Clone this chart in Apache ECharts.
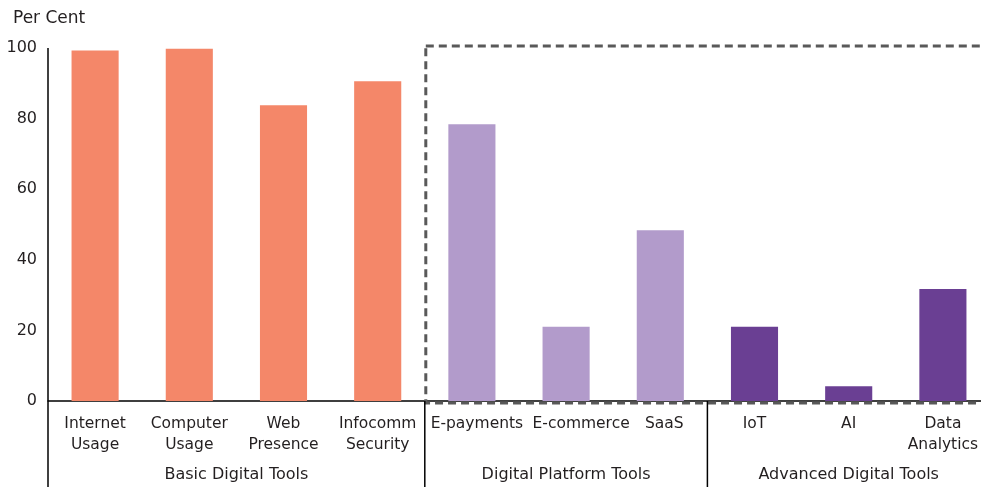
<!DOCTYPE html>
<html>
<head>
<meta charset="utf-8">
<script src="https://cdn.jsdelivr.net/npm/echarts@6/dist/echarts.min.js"></script>
<style>html,body{margin:0;padding:0;background:#fff;overflow:hidden;width:981px;height:487px;}#c{width:990px;height:487px;}</style>
</head>
<body>
<div id="c"></div>
<script>
const categories = ['Internet\nUsage','Computer\nUsage','Web\nPresence','Infocomm\nSecurity','E-payments','E-commerce','SaaS','IoT','AI','Data\nAnalytics'];
const values = [99.3, 99.8, 83.8, 90.6, 78.4, 21.0, 48.4, 21.0, 4.2, 31.7];
const groupOf = [0,0,0,0,1,1,1,2,2,2];
const groupNames = ['Basic Digital Tools','Digital Platform Tools','Advanced Digital Tools'];
const groupColors = ['#F48769','#B29BCB','#6A3F93'];
const yTicks = [0,20,40,60,80,100];
const labelShift = [0,0,0,0,10,30,8,0,0,0];

const FONT = 'DejaVu Sans';
const TXT = '#231f20';
const chart = echarts.init(document.getElementById('c'), null, {renderer:'canvas'});
const option = {
  animation:false,
  grid:{left:48, right:0, top:48, bottom:86, containLabel:false},
  xAxis:{
    type:'category',
    data:categories.map((c,i)=>({value:c, textStyle:{padding:[0,0,0,labelShift[i]]}})),
    axisLine:{show:true, lineStyle:{color:'#000', width:1.5}},
    axisTick:{show:false},
    axisLabel:{fontFamily:FONT, fontSize:15.5, color:TXT, lineHeight:21, margin:12, interval:0, hideOverlap:false}
  },
  yAxis:{
    type:'value', min:yTicks[0], max:yTicks[yTicks.length-1], interval:20,
    splitLine:{show:false},
    axisLine:{show:false}, axisTick:{show:false},
    axisLabel:{fontFamily:FONT, fontSize:16, color:TXT, margin:11}
  },
  series:[{
    type:'bar', barWidth:'50%',
    data: values.map((v,i)=>({value:v, itemStyle:{color:groupColors[groupOf[i]]}}))
  }]
};
chart.setOption(option);

function px(i){ return chart.convertToPixel({xAxisIndex:0}, i); }
function py(v){ return chart.convertToPixel({yAxisIndex:0}, v); }
const step = px(1)-px(0);
const y0 = py(0);
const b1 = px(3)+step/2, b2 = px(6)+step/2;
const leftX = px(0)-step/2;
const g = [];
g.push({type:'line', shape:{x1:leftX, y1:py(100), x2:leftX, y2:487}, style:{stroke:'#000', lineWidth:1.5}, z:10});
g.push({type:'line', shape:{x1:b1, y1:y0, x2:b1, y2:487}, style:{stroke:'#000', lineWidth:1.5}, z:10});
g.push({type:'line', shape:{x1:b2, y1:y0, x2:b2, y2:487}, style:{stroke:'#000', lineWidth:1.5}, z:10});
g.push({type:'rect', shape:{x:b1+1, y:py(100.6), width:1000, height:py(-0.6)-py(100.6)},
  style:{fill:null, stroke:'#595959', lineWidth:3, lineDash:[8,5]}, z:5});
const centers = [(px(1)+px(2))/2, px(5), px(8)];
centers.forEach((cx,k)=>{
  g.push({type:'text', x:cx, y:475, style:{text:groupNames[k], font:'16px '+FONT, fill:TXT, align:'center', verticalAlign:'middle'}, z:10});
});
g.push({type:'text', x:13, y:19, style:{text:'Per Cent', font:'17px '+FONT, fill:TXT, align:'left', verticalAlign:'middle'}, z:10});
chart.setOption({graphic:g});
</script>
</body>
</html>
